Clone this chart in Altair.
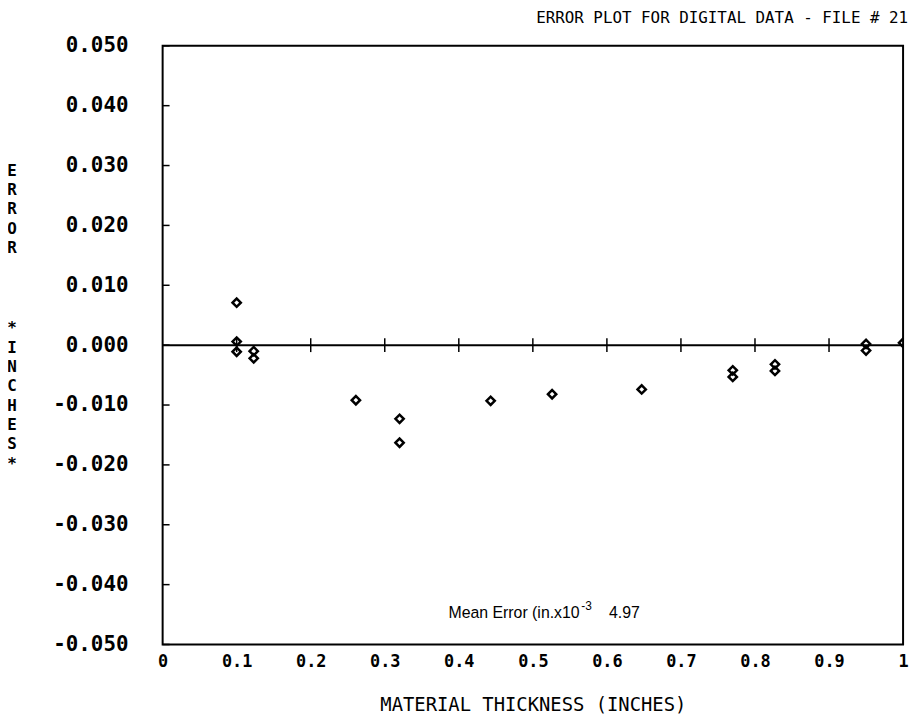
import altair as alt
import pandas as pd

# data
thickness = [0.100, 0.100, 0.100, 0.123, 0.123, 0.261, 0.320, 0.320, 0.443, 0.526,
             0.647, 0.770, 0.770, 0.827, 0.827, 0.950, 0.950, 1.000]
error = [0.0071, 0.0006, -0.0011, -0.0010, -0.0022, -0.0092, -0.0123, -0.0163, -0.0093, -0.0082,
         -0.0074, -0.0042, -0.0053, -0.0032, -0.0043, 0.0002, -0.0009, 0.0004]

y_ticks = [0.05, 0.04, 0.03, 0.02, 0.01, 0.0, -0.01, -0.02, -0.03, -0.04, -0.05]
x_ticks = [0, 0.1, 0.2, 0.3, 0.4, 0.5, 0.6, 0.7, 0.8, 0.9, 1.0]
zero_cross = [0.1, 0.2, 0.3, 0.4, 0.5, 0.6, 0.7, 0.8, 0.9]

title_text = "ERROR PLOT FOR DIGITAL DATA - FILE # 21"
x_title = "MATERIAL THICKNESS (INCHES)"
y_title_top = "E\nR\nR\nO\nR"
y_title_bottom = "*\nI\nN\nC\nH\nE\nS\n*"
mean_label = "Mean Error (in.x10"
mean_sup = "-3"
mean_value = "4.97"
mean_pos = [0.386, -0.0447]

MONO = "DejaVu Sans Mono"

pts = pd.DataFrame({"x": thickness, "y": error})
ytk = pd.DataFrame({"y": y_ticks})
zc = pd.DataFrame({"x": zero_cross, "y": [0.0] * len(zero_cross)})

xs = alt.Scale(domain=[0, 1], nice=False, zero=False)
ys = alt.Scale(domain=[-0.05, 0.05], nice=False, zero=False)

xenc = alt.X("x:Q", scale=xs, axis=alt.Axis(
    values=x_ticks, labelExpr="datum.value == 0 ? '0' : datum.value == 1 ? '1' : format(datum.value, '.1f')",
    ticks=False, domain=False, grid=False, labelFont=MONO, labelFontSize=17, labelFontWeight="bold",
    labelColor="black", labelPadding=9, labelFlush=False, labelOverlap=False,
    title=x_title, titleFont=MONO, titleFontSize=19, titleFontWeight="normal",
    titleColor="black", titlePadding=27))
yenc = alt.Y("y:Q", scale=ys, axis=alt.Axis(
    values=y_ticks, labelExpr="replace(format(datum.value, '.3f'), '\u2212', '-')",
    ticks=False, domain=False, grid=False,
    labelFont=MONO, labelFontSize=21, labelFontWeight="bold", labelColor="black",
    labelPadding=35, labelFlush=False, labelOverlap=False, title=None))

points = alt.Chart(pts).mark_point(
    shape="diamond", size=70, filled=False, color="black", strokeWidth=2.5, clip=True,
    opacity=1
).encode(x=xenc, y=yenc)

left_ticks = alt.Chart(ytk).mark_rule(color="black", strokeWidth=1.5).encode(
    y=alt.Y("y:Q", scale=ys), x=alt.value(0), x2=alt.value(7))

zero_line = alt.Chart(pd.DataFrame({"y": [0.0]})).mark_rule(color="black", strokeWidth=2).encode(
    y=alt.Y("y:Q", scale=ys), x=alt.value(0), x2=alt.value(747))

crosses = alt.Chart(zc).mark_tick(color="black", thickness=1.5, size=14, orient="vertical",
                                  opacity=1).encode(
    x=alt.X("x:Q", scale=xs), y=alt.Y("y:Q", scale=ys))

ann = pd.DataFrame({"x": [mean_pos[0]], "y": [mean_pos[1]], "t": [mean_label],
                    "s": [mean_sup], "v": [mean_value]})
mean_txt = alt.Chart(ann).mark_text(align="left", baseline="middle", font="Liberation Sans",
                                    fontSize=16, color="black").encode(
    x=alt.X("x:Q", scale=xs), y=alt.Y("y:Q", scale=ys), text="t:N")
sup_txt = alt.Chart(ann).mark_text(align="left", baseline="middle", font="Liberation Sans",
                                   fontSize=12, color="black", dx=134, dy=-7).encode(
    x=alt.X("x:Q", scale=xs), y=alt.Y("y:Q", scale=ys), text="s:N")
val_txt = alt.Chart(ann).mark_text(align="left", baseline="middle", font="Liberation Sans",
                                   fontSize=16, color="black", dx=162).encode(
    x=alt.X("x:Q", scale=xs), y=alt.Y("y:Q", scale=ys), text="v:N")

ylab1 = alt.Chart(pd.DataFrame({"t": [y_title_top]})).mark_text(
    font=MONO, fontSize=16, fontWeight="bold", lineBreak="\n", lineHeight=19.5, align="center",
    baseline="top", color="black").encode(x=alt.value(-152), y=alt.value(118), text="t:N")
ylab2 = alt.Chart(pd.DataFrame({"t": [y_title_bottom]})).mark_text(
    font=MONO, fontSize=16, fontWeight="bold", lineBreak="\n", lineHeight=19.5, align="center",
    baseline="top", color="black").encode(x=alt.value(-152), y=alt.value(277), text="t:N")

chart = alt.layer(zero_line, crosses, left_ticks, points, mean_txt, sup_txt, val_txt,
                  ylab1, ylab2).properties(
    width=747, height=604,
    padding={"left": 156, "top": 35, "right": 8, "bottom": 70},
    autosize=alt.AutoSizeParams(type="none"),
    title=alt.TitleParams(title_text, anchor="end", font=MONO, fontSize=16,
                          fontWeight="normal", color="black", offset=9),
).configure(background="white").configure_view(stroke="black", strokeWidth=2)

chart.save("out.html", embed_options={"renderer": "svg", "actions": False})
